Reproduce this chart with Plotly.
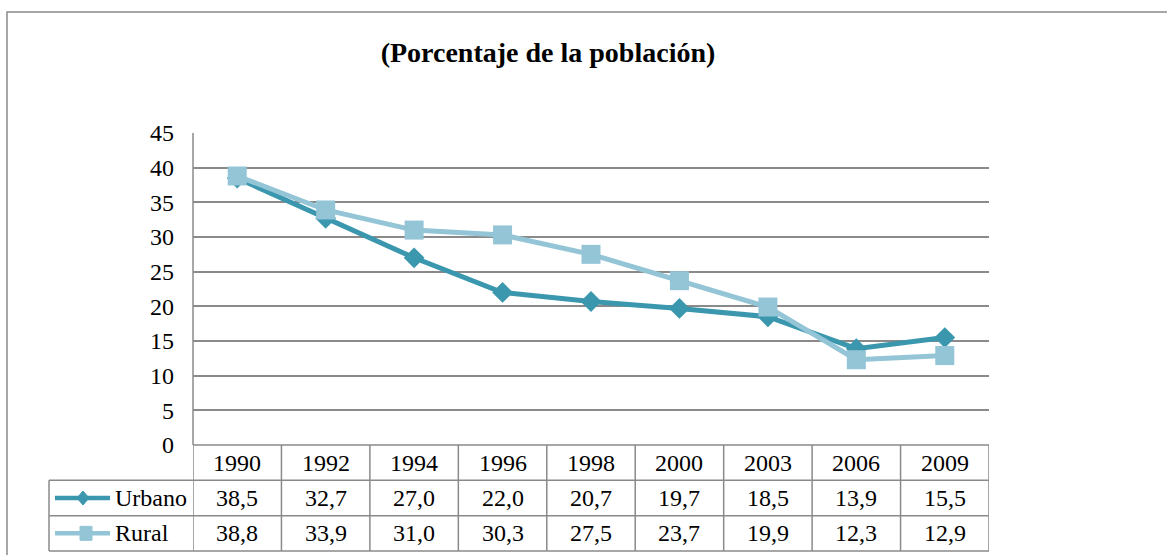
import plotly.graph_objects as go

# data
years = ["1990", "1992", "1994", "1996", "1998", "2000", "2003", "2006", "2009"]
urbano = [38.5, 32.7, 27.0, 22.0, 20.7, 19.7, 18.5, 13.9, 15.5]
rural = [38.8, 33.9, 31.0, 30.3, 27.5, 23.7, 19.9, 12.3, 12.9]
series = [("Urbano", urbano), ("Rural", rural)]

c_urb = "#3A97AE"
c_rur = "#93C5D6"
grid = "#8A8A8A"
font = "Liberation Serif"
fsize = 24

W, H = 1167, 555
L, R, T, B = 193, 178, 133, 4
pw, ph = W - L - R, H - T - B
chart_bottom = 445
dom = (H - B - chart_bottom) / ph  # table domain top (paper)


def py(px):
    # pixel y -> paper y
    return (H - B - px) / ph


def pxx(px):
    # pixel x -> paper x
    return (px - L) / pw


def row_y(r):
    # table row boundary -> paper y
    return dom * (1 - r / 3)


fig = go.Figure()
fig.add_trace(go.Scatter(x=years, y=urbano, mode="lines+markers", name="Urbano",
                         line=dict(color=c_urb, width=5),
                         marker=dict(symbol="diamond", size=16, color=c_urb)))
fig.add_trace(go.Scatter(x=years, y=rural, mode="lines+markers", name="Rural",
                         line=dict(color=c_rur, width=5),
                         marker=dict(symbol="square", size=19, color=c_rur)))

shapes = []
ln = dict(color=grid, width=1.5)
# outer chart border (cut at right/bottom)
shapes.append(dict(type="rect", xref="paper", yref="paper",
                   x0=pxx(7), x1=pxx(W + 20), y0=py(H + 20), y1=py(12),
                   line=ln, fillcolor="rgba(0,0,0,0)"))
# left axis line of chart
shapes.append(dict(type="line", xref="paper", yref="paper",
                   x0=0, x1=0, y0=dom, y1=1, line=ln))
# table horizontal lines
shapes.append(dict(type="line", xref="paper", yref="paper",
                   x0=0, x1=1, y0=row_y(0), y1=row_y(0), line=ln))
for r in (1, 2, 3):
    shapes.append(dict(type="line", xref="paper", yref="paper",
                       x0=pxx(49), x1=1, y0=row_y(r), y1=row_y(r), line=ln))
# table vertical lines
shapes.append(dict(type="line", xref="paper", yref="paper",
                   x0=pxx(49), x1=pxx(49), y0=row_y(3), y1=row_y(1), line=ln))
for i in range(len(years) + 1):
    shapes.append(dict(type="line", xref="x", yref="paper",
                       x0=i - 0.5, x1=i - 0.5, y0=row_y(3), y1=row_y(0), line=ln))

annotations = []
txt = dict(family=font, size=fsize, color="black")
# year header row
for i, yr in enumerate(years):
    annotations.append(dict(x=i, y=(row_y(0) + row_y(1)) / 2, xref="x", yref="paper",
                            text=yr, showarrow=False, yanchor="middle", font=txt))
# legend keys + values
for k, (name, vals) in enumerate(series):
    ym = (row_y(k + 1) + row_y(k + 2)) / 2
    col = c_urb if name == "Urbano" else c_rur
    shapes.append(dict(type="line", xref="paper", yref="paper",
                       x0=pxx(55), x1=pxx(110), y0=ym, y1=ym,
                       line=dict(color=col, width=4.5)))
    if name == "Urbano":
        shapes.append(dict(type="path", xref="paper", yref="paper",
                           xsizemode="pixel", ysizemode="pixel",
                           xanchor=pxx(83), yanchor=ym,
                           path="M -6 0 L 0 7 L 6 0 L 0 -7 Z",
                           fillcolor=col, line=dict(color=col, width=1)))
    else:
        shapes.append(dict(type="rect", xref="paper", yref="paper",
                           xsizemode="pixel", ysizemode="pixel",
                           xanchor=pxx(86), yanchor=ym,
                           x0=-6, x1=6, y0=-7, y1=7,
                           fillcolor=col, line=dict(color=col, width=1)))
    annotations.append(dict(x=pxx(113), y=ym, xref="paper", yref="paper",
                            text=name, showarrow=False, xanchor="left",
                            yanchor="middle", font=txt))
    for i, v in enumerate(vals):
        annotations.append(dict(x=i, y=ym, xref="x", yref="paper",
                                text=f"{v:.1f}".replace(".", ","), showarrow=False,
                                yanchor="middle", font=txt))

fig.update_layout(
    width=W, height=H,
    margin=dict(l=L, r=R, t=T, b=B, autoexpand=False),
    paper_bgcolor="white", plot_bgcolor="white",
    showlegend=False,
    title=dict(text="<b>(Porcentaje de la población)</b>",
               x=548 / W, xref="container", xanchor="center",
               y=1 - 52 / H, yref="container", yanchor="middle",
               font=dict(family=font, size=28, color="black")),
    xaxis=dict(type="category", range=[-0.5, 8.5], showticklabels=False,
               showgrid=False, zeroline=False, showline=False, ticks="",
               automargin=False),
    yaxis=dict(domain=[dom, 1], range=[0, 45], dtick=5, tick0=0,
               showgrid=True, gridcolor=grid, gridwidth=1.5, zeroline=False,
               showline=False, ticks="", ticklabelstandoff=18, automargin=False,
               tickfont=dict(family=font, size=fsize, color="black")),
    shapes=shapes,
    annotations=annotations,
)

fig.write_html("out.html", config={"displayModeBar": False},
               post_script="document.body.style.margin='0';document.body.style.overflow='hidden';")
